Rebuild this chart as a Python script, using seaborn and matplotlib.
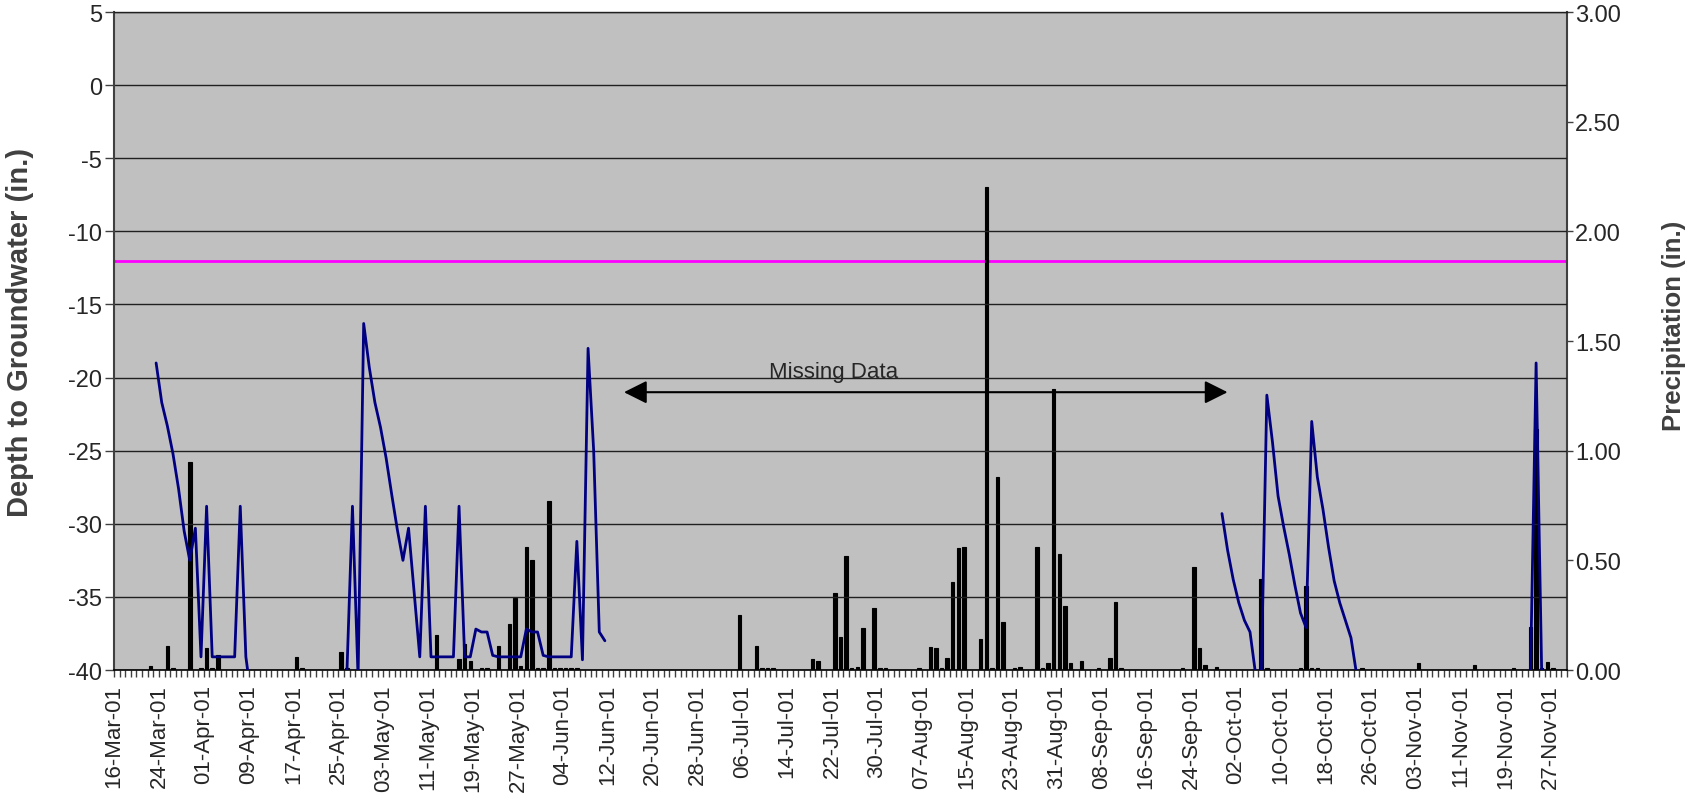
import numpy as np
import pandas as pd
import matplotlib
matplotlib.use("Agg")
import matplotlib.pyplot as plt
import seaborn as sns
from matplotlib.ticker import FormatStrFormatter, MultipleLocator
from matplotlib.transforms import blended_transform_factory

# ---------------- data ----------------
start_date = "2001-03-16"
n_days = 259  # 16-Mar-01 .. 29-Nov-01

precip_dates = [
    "2001-03-22", "2001-03-25", "2001-03-26", "2001-03-29", "2001-03-31",
    "2001-04-01", "2001-04-02", "2001-04-03", "2001-04-17", "2001-04-18",
    "2001-04-25", "2001-04-26", "2001-05-12", "2001-05-16", "2001-05-17",
    "2001-05-18", "2001-05-20", "2001-05-21", "2001-05-23", "2001-05-25",
    "2001-05-26", "2001-05-27", "2001-05-28", "2001-05-29", "2001-05-30",
    "2001-05-31", "2001-06-01", "2001-06-02", "2001-06-03", "2001-06-04",
    "2001-06-05", "2001-06-06", "2001-07-05", "2001-07-08", "2001-07-09",
    "2001-07-10", "2001-07-11", "2001-07-18", "2001-07-19", "2001-07-22",
    "2001-07-23", "2001-07-24", "2001-07-25", "2001-07-26", "2001-07-27",
    "2001-07-29", "2001-07-30", "2001-07-31", "2001-08-06", "2001-08-08",
    "2001-08-09", "2001-08-10", "2001-08-11", "2001-08-12", "2001-08-13",
    "2001-08-14", "2001-08-17", "2001-08-18", "2001-08-19", "2001-08-20",
    "2001-08-21", "2001-08-23", "2001-08-24", "2001-08-27", "2001-08-28",
    "2001-08-29", "2001-08-30", "2001-08-31", "2001-09-01", "2001-09-02",
    "2001-09-04", "2001-09-07", "2001-09-09", "2001-09-10", "2001-09-11",
    "2001-09-22", "2001-09-24", "2001-09-25", "2001-09-26", "2001-09-28",
    "2001-10-06", "2001-10-07", "2001-10-13", "2001-10-14", "2001-10-15",
    "2001-10-16", "2001-10-24", "2001-11-03", "2001-11-13", "2001-11-20",
    "2001-11-23", "2001-11-24", "2001-11-25", "2001-11-26", "2001-11-27",
]
precip_in = [
    0.02, 0.11, 0.01, 0.95, 0.01,
    0.10, 0.01, 0.07, 0.06, 0.01,
    0.08, 0.01, 0.16, 0.05, 0.12,
    0.04, 0.01, 0.01, 0.11, 0.21,
    0.33, 0.02, 0.56, 0.50, 0.01,
    0.01, 0.77, 0.01, 0.01, 0.01,
    0.01, 0.01, 0.25, 0.11, 0.01,
    0.01, 0.01, 0.05, 0.04, 0.35,
    0.15, 0.52, 0.01, 0.015, 0.19,
    0.285, 0.01, 0.01, 0.01, 0.105,
    0.10, 0.01, 0.056, 0.40, 0.555,
    0.56, 0.14, 2.20, 0.01, 0.88,
    0.22, 0.01, 0.015, 0.56, 0.01,
    0.03, 1.28, 0.53, 0.29, 0.03,
    0.04, 0.01, 0.056, 0.31, 0.01,
    0.01, 0.47, 0.10, 0.025, 0.015,
    0.415, 0.01, 0.01, 0.385, 0.01,
    0.01, 0.01, 0.033, 0.023, 0.01,
    0.196, 1.10, 0.01, 0.036, 0.01,
]

# depth to groundwater, daily readings (values below -40 are off-scale)
spring_start = "2001-03-23"
spring_depth = [
    -19.0, -21.7, -23.3, -25.2, -27.6, -30.5, -32.5, -30.3, -39.1, -28.8,
    -39.1, -39.1, -39.1, -39.1, -39.1, -28.8, -39.1,
    -42.0, -42.0, -42.0, -42.0, -42.0, -42.0, -42.0, -42.0, -42.0,
    -42.0, -42.0, -42.0, -42.0, -42.0, -42.0, -42.0, -42.0,
    -40.3, -28.8, -40.5, -16.3, -19.3, -21.7, -23.4, -25.5, -28.0, -30.4,
    -32.5, -30.3, -34.7, -39.1, -28.8, -39.1, -39.1, -39.1, -39.1, -39.1,
    -28.8, -39.1, -39.1, -37.2, -37.4, -37.4, -39.0, -39.1, -39.1, -39.1,
    -39.1, -39.1, -37.2, -37.4, -37.4, -39.0, -39.1, -39.1, -39.1, -39.1,
    -39.1, -31.2, -39.3, -18.0, -25.0, -37.4, -38.0,
]
fall_start = "2001-09-29"
fall_depth = [
    -29.3, -31.8, -33.8, -35.4, -36.6, -37.4, -40.3, -40.5, -21.2, -24.4,
    -28.1, -30.2, -32.1, -34.2, -36.1, -37.1, -23.0, -26.8, -29.0, -31.6,
    -33.9, -35.4, -36.6, -37.8, -40.3,
]
nov_start = "2001-11-23"
nov_depth = [-40.3, -19.0, -40.3]

threshold_depth = -12.0
missing_label = "Missing Data"
missing_span_days = (90.9, 198.5)
missing_arrow_depth = -21.0

depth_ticks = list(range(-40, 6, 5))
precip_ticks = [0.0, 0.5, 1.0, 1.5, 2.0, 2.5, 3.0]
label_every = 8

# ---------------- style ----------------
sns.set_style("white")
plt.rcParams["font.family"] = ["Liberation Sans", "DejaVu Sans"]
plt.rcParams["axes.unicode_minus"] = False

start = pd.Timestamp(start_date)


def day_index(dates):
    return np.asarray((pd.to_datetime(dates) - start).days, dtype=float)


fig = plt.figure(figsize=(16.92, 8.04), dpi=100)
ax = fig.add_axes([0.0674, 0.1654, 0.9261 - 0.0674, 0.9838 - 0.1654])
ax2 = ax.twinx()
ax.set_zorder(ax2.get_zorder() + 1)
ax.patch.set_visible(False)
ax2.patch.set_visible(True)
ax2.patch.set_facecolor("#C0C0C0")

# precipitation bars (right axis)
bx = day_index(precip_dates) + 0.5
ax2.bar(bx, precip_in, width=0.62, color="black", edgecolor="black",
        linewidth=0.8, zorder=3)

# threshold line drawn beneath the bars
ax2.plot([0, 1], [threshold_depth, threshold_depth],
         transform=blended_transform_factory(ax2.transAxes, ax.transData),
         color="#FF00FF", lw=2.0, zorder=2, solid_capstyle="butt")

# groundwater depth line (left axis)
for seg_start, seg_vals in [(spring_start, spring_depth),
                            (fall_start, fall_depth),
                            (nov_start, nov_depth)]:
    sx = day_index([seg_start])[0] + np.arange(len(seg_vals)) + 0.5
    sns.lineplot(x=sx, y=seg_vals, ax=ax, color="#000080", lw=2.0,
                 estimator=None, sort=False, zorder=5)

# axes limits & ticks
ax.set_xlim(0, n_days)
ax.set_ylim(-40, 5)
ax2.set_ylim(0, 3)

tick_days = np.arange(0, n_days, label_every)
tick_labels = (start + pd.to_timedelta(tick_days, unit="D")).strftime("%d-%b-%y")
ax.set_xticks(tick_days)
ax.set_xticklabels(tick_labels, rotation=90, fontsize=16)
ax.xaxis.set_minor_locator(MultipleLocator(1))
ax.tick_params(axis="x", which="both", bottom=True, length=5, width=1,
               color="#404040", direction="out", pad=5)

ax.set_yticks(depth_ticks)
ax.set_yticklabels([str(v) for v in depth_ticks], fontsize=17)
ax.tick_params(axis="y", left=True, length=6.5, width=1, color="#404040",
               direction="out", pad=2)

ax2.set_yticks(precip_ticks)
ax2.yaxis.set_major_formatter(FormatStrFormatter("%.2f"))
ax2.tick_params(axis="y", right=True, length=4, width=1, color="#404040",
                direction="out", pad=2, labelsize=17)

ax.yaxis.grid(True, color="#202020", lw=1.0)
ax.xaxis.grid(False)
ax.set_axisbelow(True)

for name, sp in ax.spines.items():
    sp.set_visible(name in ("left", "bottom", "top"))
ax.spines["left"].set_color("#404040")
ax.spines["left"].set_linewidth(1.5)
ax.spines["bottom"].set_color("black")
ax.spines["bottom"].set_linewidth(1.2)
ax.spines["top"].set_color("#202020")
ax.spines["top"].set_linewidth(1.0)
for name, sp in ax2.spines.items():
    sp.set_visible(name == "right")
ax2.spines["right"].set_color("#404040")
ax2.spines["right"].set_linewidth(1.5)

ax.set_ylabel("Depth to Groundwater (in.)", fontsize=21, fontweight="bold",
              color="#404040", va="center")
ax.yaxis.set_label_coords(-0.0644, 0.515)
ax2.set_ylabel("Precipitation (in.)", fontsize=18.5, fontweight="bold",
               color="#404040", va="center", rotation=90)
ax2.yaxis.set_label_coords(1.0737, 0.524)

# missing data annotation
ax.annotate("", xy=(missing_span_days[0], missing_arrow_depth),
            xytext=(missing_span_days[1], missing_arrow_depth),
            arrowprops=dict(arrowstyle="<|-|>,head_length=0.7,head_width=0.35",
                            color="black", lw=1.5, shrinkA=0, shrinkB=0,
                            mutation_scale=20), zorder=6)
ax.text(128.2, -19.6, missing_label, ha="center", va="center",
        fontsize=16, zorder=6)

fig.savefig("out.png", dpi=100)
